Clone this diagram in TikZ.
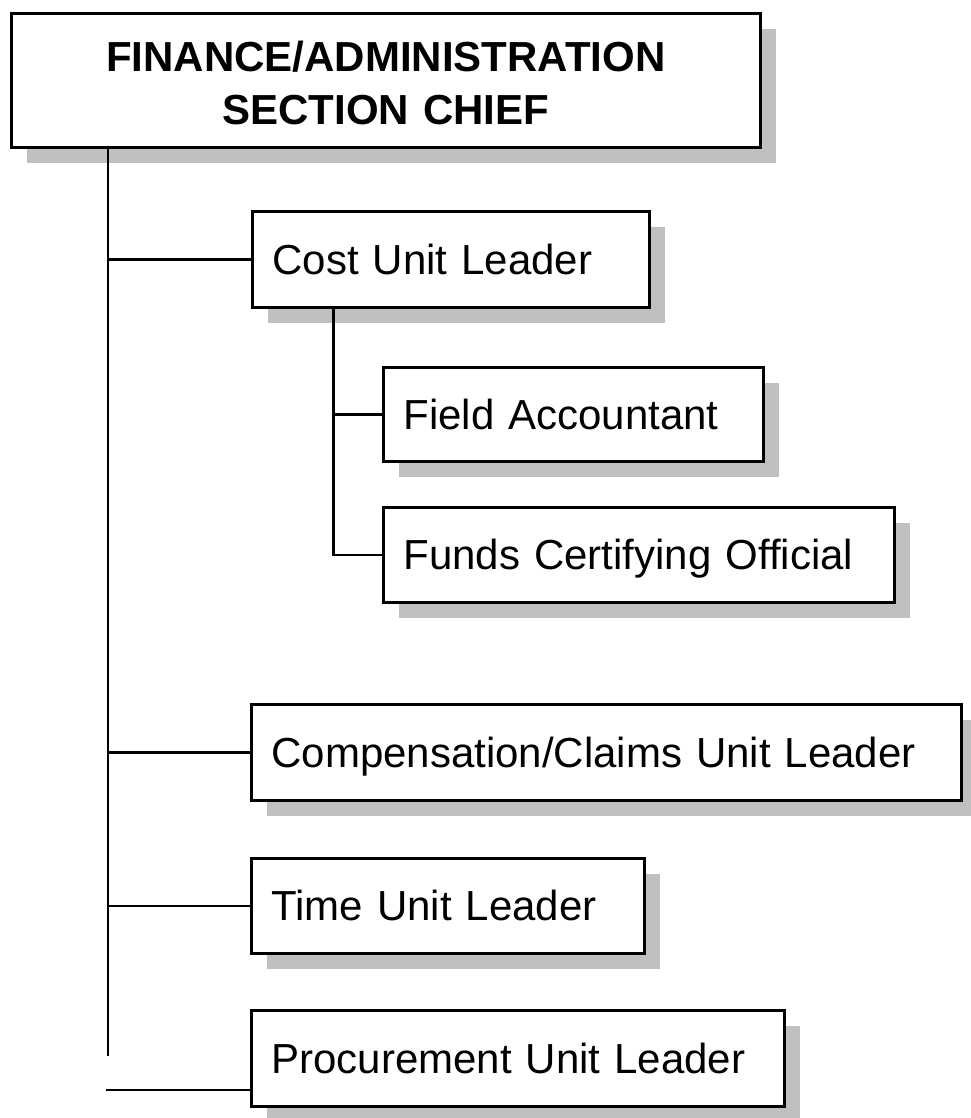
\documentclass[tikz,border=0pt]{standalone}
\usepackage{fontspec}
\setmainfont{Liberation Sans}
\usetikzlibrary{shadows}
\definecolor{shade}{RGB}{191,191,191}
\begin{document}
\begin{tikzpicture}[x=1pt,y=-1pt,
  box/.style={draw=black, line width=2.8pt, fill=white, anchor=north west,
    inner xsep=20pt, inner ysep=0pt, align=left,
    font=\fontsize{42}{50}\selectfont, text height=30pt, text depth=0pt,
    drop shadow={shadow xshift=16pt, shadow yshift=-16pt, fill=shade, opacity=1}},
  titlebox/.style={box, align=center, font=\fontsize{42}{53}\selectfont\bfseries,
    text height=30pt, text depth=48pt},
  link/.style={draw=black, line width=2.4pt}]
\useasboundingbox (0,0) rectangle (970,1118);

\node[titlebox, text width=709pt, minimum height=134pt] (top) at (10,12)
  {FINANCE/ADMINISTRATION\\SECTION CHIEF};
\node[box, text width=357pt, minimum height=96pt] (cost) at (251,210) {Cost Unit Leader};
\node[box, text width=340pt, minimum height=94pt] (field) at (382,366) {Field Accountant};
\node[box, text width=471pt, minimum height=95pt] (funds) at (382,506) {Funds Certifying Official};
\node[box, text width=670pt, minimum height=96pt] (comp) at (250,703) {Compensation/Claims Unit Leader};
\node[box, text width=353pt, minimum height=95pt] (time) at (250,857) {Time Unit Leader};
\node[box, text width=493pt, minimum height=96pt] (proc) at (250,1009) {Procurement Unit Leader};

\coordinate (spine) at (108,1056);
\coordinate (procend) at (106,1090);
\coordinate (sub) at (333.5,306);

\draw[link] (spine |- top.south) -- (spine);
\draw[link] (spine |- cost.west) -- (cost.west);
\draw[link] (spine |- comp.west) -- (comp.west);
\draw[link] (spine |- time.west) -- (time.west);
\draw[link] (procend) -- (procend -| proc.west);
\draw[link] (sub |- cost.south) -- (sub |- funds.west) -- (funds.west);
\draw[link] (sub |- field.west) -- (field.west);
\end{tikzpicture}
\end{document}
